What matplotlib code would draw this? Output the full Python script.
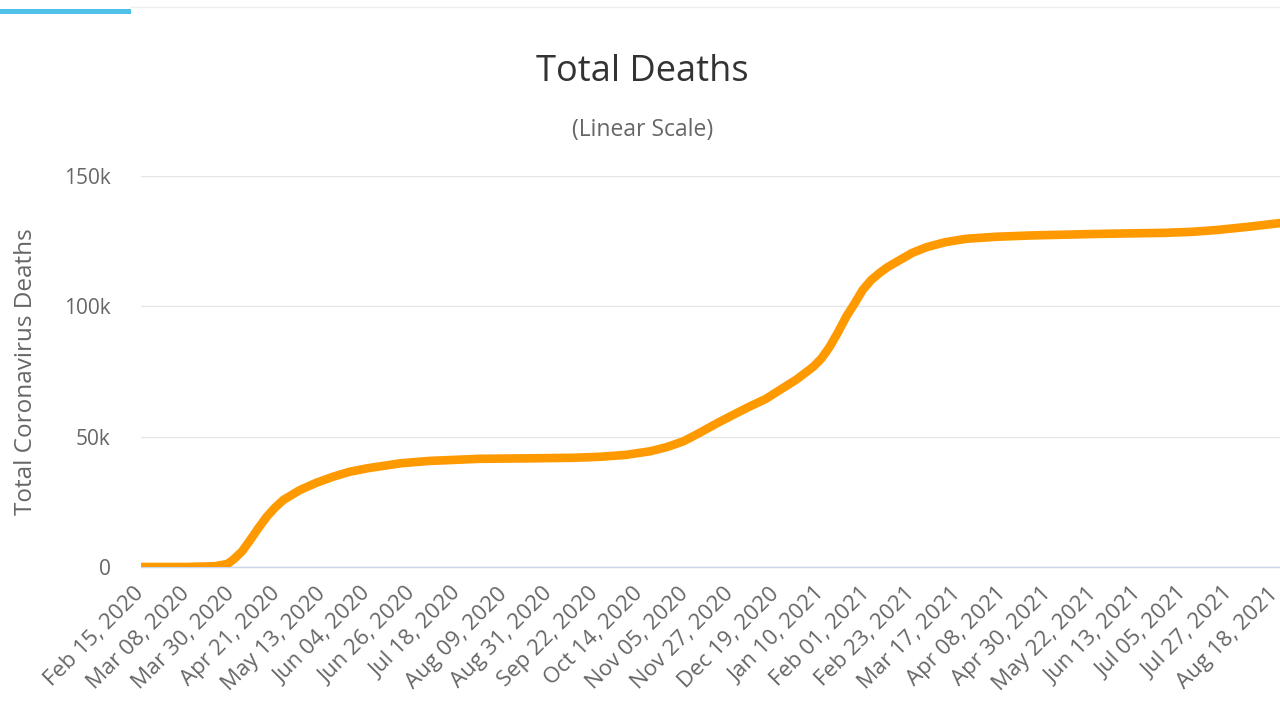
#!/usr/bin/env python3

import datetime as dt
import matplotlib
matplotlib.use("Agg")
import matplotlib.pyplot as plt
import matplotlib.dates as mdates
from matplotlib.lines import Line2D
from matplotlib.patches import Rectangle

# Valeurs (total cumulé des décès)
dates = [
    "2020-02-15", "2020-03-08", "2020-03-22", "2020-03-28", "2020-03-31",
    "2020-04-04", "2020-04-08", "2020-04-12", "2020-04-16", "2020-04-20",
    "2020-04-24", "2020-05-02", "2020-05-10", "2020-05-18", "2020-05-26",
    "2020-06-04", "2020-06-20", "2020-07-04", "2020-07-28", "2020-08-23",
    "2020-09-12", "2020-09-25", "2020-10-07", "2020-10-19", "2020-10-27",
    "2020-11-04", "2020-11-12", "2020-11-20", "2020-11-28", "2020-12-06",
    "2020-12-14", "2020-12-21", "2020-12-29", "2021-01-06", "2021-01-10",
    "2021-01-14", "2021-01-18", "2021-01-22", "2021-01-26", "2021-01-30",
    "2021-02-03", "2021-02-07", "2021-02-11", "2021-02-16", "2021-02-23",
    "2021-03-02", "2021-03-11", "2021-03-21", "2021-04-05", "2021-04-22",
    "2021-05-25", "2021-06-26", "2021-07-09", "2021-07-21", "2021-08-06",
    "2021-08-21",
]
deaths = [
    0, 0, 300, 1200, 3000,
    6000, 10400, 15000, 19300, 22800,
    25700, 29500, 32300, 34600, 36500,
    37900, 39800, 40700, 41500, 41700,
    41900, 42300, 43000, 44400, 46000,
    48200, 51500, 55000, 58300, 61500,
    64500, 68000, 72000, 76800, 80000,
    84500, 90000, 96000, 101000, 106300,
    110000, 112700, 115000, 117300, 120500,
    122700, 124600, 125900, 126700, 127200,
    127800, 128200, 128600, 129300, 130600,
    132000,
]

# Graduations : une tous les 22 jours
tick_start = dt.date(2020, 2, 15)
tick_count = 26
y_ticks = [0, 50000, 100000, 150000]
y_tick_labels = ["0", "50k", "100k", "150k"]

plt.rcParams["font.family"] = ["Open Sans", "DejaVu Sans"]

x = [dt.datetime.strptime(d, "%Y-%m-%d") for d in dates]

fig = plt.figure(figsize=(12.8, 7.21), dpi=100)
ax = fig.add_axes([141 / 1280, 154 / 721, 1 - 141 / 1280, 391 / 721])

ax.plot(x, deaths, color="#ff9900", linewidth=6.2, solid_capstyle="round",
        solid_joinstyle="round", zorder=3)

# Axes
x_left = dt.datetime(2020, 2, 15)
x_right = x_left + dt.timedelta(days=(1280 - 141) / 2.062)
ax.set_xlim(x_left, x_right)
ax.set_ylim(0, 150000)

ticks = [tick_start + dt.timedelta(days=22 * i) for i in range(tick_count)]
ax.set_xticks([mdates.date2num(t) for t in ticks])
ax.set_xticklabels([t.strftime("%b %d, %Y") for t in ticks])
ax.set_yticks(y_ticks)
ax.set_yticklabels(y_tick_labels)

for spine in ["top", "right", "left"]:
    ax.spines[spine].set_visible(False)
ax.spines["bottom"].set_color("#ccd6eb")
ax.spines["bottom"].set_linewidth(1.0)

ax.grid(axis="y", color="#e6e6e6", linewidth=1.0, zorder=0)
ax.tick_params(axis="both", length=0, colors="#666666")
ax.tick_params(axis="y", pad=22, labelsize=15)
ax.tick_params(axis="x", pad=17, labelsize=16)
for lbl in ax.get_xticklabels():
    lbl.set_rotation(45)
    lbl.set_ha("right")
    lbl.set_va("center")
    lbl.set_rotation_mode("anchor")

ax.set_ylabel("Total Coronavirus Deaths", color="#666666", fontsize=17.5)
ax.yaxis.set_label_coords(-0.09, 0.5)

# Titres
fig.text(0.502, 1 - 72 / 721, "Total Deaths", ha="center", va="center",
         fontsize=26, color="#333333")
fig.text(0.502, 1 - 130 / 721, "(Linear Scale)", ha="center", va="center",
         fontsize=16.5, color="#666666")

# Barre bleue et trait gris en haut
fig.add_artist(Rectangle((0, 1 - 14 / 721), 131 / 1280, 5 / 721,
                         transform=fig.transFigure, color="#4fc1e9", lw=0))
fig.add_artist(Line2D([131 / 1280, 1], [1 - 7 / 721, 1 - 7 / 721],
                      transform=fig.transFigure, color="#eeeeee", lw=1))

fig.savefig("out.png", dpi=100)
